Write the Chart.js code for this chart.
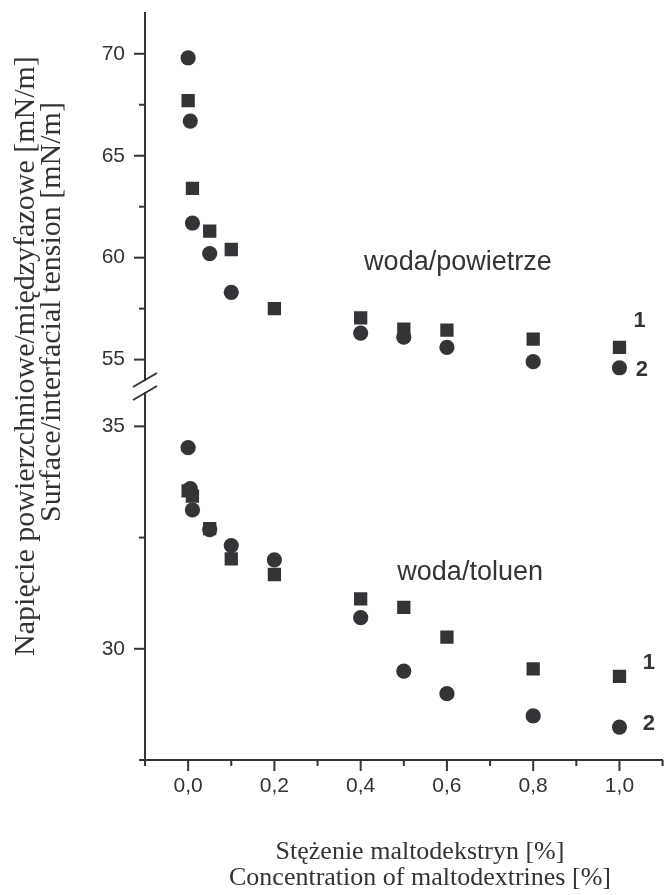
<!DOCTYPE html>
<html>
<head>
<meta charset="utf-8">
<script src="https://cdn.jsdelivr.net/npm/chart.js@4.4.0/dist/chart.umd.min.js"></script>
<style>
  html, body { margin: 0; padding: 0; background: #fff; overflow: hidden; }
  #wrap { position: relative; width: 669px; height: 895px; overflow: hidden; }
  #upper { position: absolute; left: 0; top: 0; }
  #lower { position: absolute; left: 0; top: 380px; }
  .title { position: absolute; font-family: "Liberation Serif", serif; color: #333; text-align: center; white-space: nowrap; }
  .yt { width: 700px; height: 30px; font-size: 30px; line-height: 30px; transform: rotate(-90deg); }
  #yt1 { left: -326px; top: 341px; }
  #yt2 { left: -300px; top: 297px; }
  #xtitle { width: 800px; left: 20px; top: 838px; font-size: 26px; line-height: 26px; }
</style>
</head>
<body>
<div id="wrap">
  <canvas id="upper" width="672" height="392"></canvas>
  <canvas id="lower" width="672" height="515"></canvas>
  <div class="title yt" id="yt1">Napięcie powierzchniowe/międzyfazowe [mN/m]</div>
  <div class="title yt" id="yt2">Surface/interfacial tension [mN/m]</div>
  <div class="title" id="xtitle">Stężenie maltodekstryn [%]<br>Concentration of maltodextrines [%]</div>
</div>
<script>
// stężenie maltodekstryn [%]
const xTicks = [-0.1, 0, 0.1, 0.2, 0.3, 0.4, 0.5, 0.6, 0.7, 0.8, 0.9, 1.0, 1.1];

// woda/powietrze (górny panel)
const airX1 = [0, 0.01, 0.05, 0.1, 0.2, 0.4, 0.5, 0.6, 0.8, 1.0];
const airY1 = [67.7, 63.4, 61.3, 60.4, 57.5, 57.05, 56.5, 56.45, 56.0, 55.6];
const airX2 = [0, 0.005, 0.01, 0.05, 0.1, 0.4, 0.5, 0.6, 0.8, 1.0];
const airY2 = [69.8, 66.7, 61.7, 60.2, 58.3, 56.3, 56.1, 55.6, 54.9, 54.6];
const upperTicks = [55, 57.5, 60, 62.5, 65, 67.5, 70];

// woda/toluen (dolny panel)
const tolX1 = [0, 0.01, 0.05, 0.1, 0.2, 0.4, 0.5, 0.6, 0.8, 1.0];
const tolY1 = [33.55, 33.43, 32.7, 32.02, 31.67, 31.12, 30.93, 30.26, 29.55, 29.38];
const tolX2 = [0, 0.005, 0.01, 0.05, 0.1, 0.2, 0.4, 0.5, 0.6, 0.8, 1.0];
const tolY2 = [34.52, 33.6, 33.12, 32.68, 32.32, 32.0, 30.7, 29.5, 28.99, 28.49, 28.24];
const lowerTicks = [27.5, 30, 32.5, 35];

const ink = '#333338';
const sans = 'Liberation Sans';

function pts(xs, ys) {
    return xs.map((x, i) => ({ x: x, y: ys[i] }));
}

// kreski podziałki: długie przy opisanych, krótkie przy pozostałych
const tickMarks = {
    id: 'tickMarks',
    afterDraw(chart) {
        const ctx = chart.ctx;
        ctx.save();
        ctx.strokeStyle = ink;
        ctx.lineWidth = 2;
        Object.values(chart.scales).forEach(scale => {
            if (!scale.options.display) return;
            scale.ticks.forEach(t => {
                const len = t.label !== '' ? 11 : 6;
                const p = scale.getPixelForValue(t.value);
                ctx.beginPath();
                if (scale.isHorizontal()) {
                    ctx.moveTo(p, scale.top);
                    ctx.lineTo(p, scale.top + len);
                } else {
                    ctx.moveTo(scale.right, p);
                    ctx.lineTo(scale.right - len, p);
                }
                ctx.stroke();
            });
        });
        ctx.restore();
    }
};

// przerwa osi Y (//)
const axisBreak = {
    id: 'axisBreak',
    afterDraw(chart, args, opts) {
        const ctx = chart.ctx;
        const a = chart.chartArea;
        const y = opts.edge === 'bottom' ? a.bottom : a.top;
        ctx.save();
        ctx.strokeStyle = ink;
        ctx.lineWidth = 2;
        ctx.beginPath();
        ctx.moveTo(a.left - 12, y + 7);
        ctx.lineTo(a.left + 12, y - 7);
        ctx.stroke();
        ctx.restore();
    }
};

// opisy w polu wykresu
const notes = {
    id: 'notes',
    afterDatasetsDraw(chart, args, opts) {
        const ctx = chart.ctx;
        const xs = chart.scales.x, ys = chart.scales.y;
        ctx.save();
        ctx.fillStyle = ink;
        ctx.textBaseline = 'middle';
        opts.items.forEach(n => {
            ctx.font = (n.bold ? 'bold ' : '') + n.size + 'px "' + sans + '"';
            ctx.textAlign = n.align;
            ctx.fillText(n.text, xs.getPixelForValue(n.x), ys.getPixelForValue(n.y));
        });
        ctx.restore();
    }
};

function makeChart(id, ds1, ds2, yMin, yMax, yTicks, showX, pad, edge, items) {
    return new Chart(document.getElementById(id), {
        type: 'scatter',
        data: {
            datasets: [
                { label: '2', data: ds2, pointStyle: 'circle', pointRadius: 7.6, pointHoverRadius: 7.6,
                  backgroundColor: ink, borderWidth: 0 },
                { label: '1', data: ds1, pointStyle: 'rect', pointRadius: 9.4, pointHoverRadius: 9.4,
                  backgroundColor: ink, borderWidth: 0 }
            ]
        },
        options: {
            responsive: false,
            animation: false,
            events: [],
            layout: { padding: pad },
            plugins: {
                legend: { display: false },
                tooltip: { enabled: false },
                axisBreak: { edge: edge },
                notes: { items: items }
            },
            scales: {
                x: {
                    type: 'linear',
                    display: showX,
                    min: -0.1,
                    max: 1.1,
                    afterBuildTicks: s => { s.ticks = xTicks.map(v => ({ value: v })); },
                    afterFit: s => {
                        s.height = showX ? 135 : 0;
                        s.paddingLeft = 0;
                        s.paddingRight = 0;
                    },
                    grid: { drawOnChartArea: false, drawTicks: true, tickLength: 11, tickColor: 'transparent' },
                    border: { display: true, color: ink, width: 2 },
                    ticks: {
                        autoSkip: false,
                        maxRotation: 0,
                        padding: 3,
                        color: '#333',
                        font: { family: sans, size: 21 },
                        callback: v => {
                            const k = Math.round(v * 10);
                            return (k >= 0 && k % 2 === 0) ? v.toFixed(1).replace('.', ',') : '';
                        }
                    }
                },
                y: {
                    type: 'linear',
                    min: yMin,
                    max: yMax,
                    afterBuildTicks: s => { s.ticks = yTicks.map(v => ({ value: v })); },
                    afterFit: s => {
                        s.width = 145;
                        s.paddingTop = 0;
                        s.paddingBottom = 0;
                    },
                    grid: { drawOnChartArea: false, drawTicks: true, tickLength: 12, tickColor: 'transparent' },
                    border: { display: true, color: ink, width: 2 },
                    ticks: {
                        autoSkip: false,
                        padding: 8,
                        color: '#333',
                        font: { family: sans, size: 21 },
                        callback: v => (v % 5 === 0 ? String(v) : '')
                    }
                }
            }
        },
        plugins: [tickMarks, axisBreak, notes]
    });
}

makeChart('upper', pts(airX1, airY1), pts(airX2, airY2), 54, 72, upperTicks, false,
    { top: 13, bottom: 12, left: 0, right: 0 }, 'bottom', [
        { text: 'woda/powietrze', x: 0.408, y: 59.76, size: 27, bold: false, align: 'left' },
        { text: '1', x: 1.047, y: 56.92, size: 22, bold: true, align: 'center' },
        { text: '2', x: 1.052, y: 54.48, size: 22, bold: true, align: 'center' }
    ]);

makeChart('lower', pts(tolX1, tolY1), pts(tolX2, tolY2), 27.5, 35.75, lowerTicks, true,
    { top: 13, bottom: 0, left: 0, right: 0 }, 'top', [
        { text: 'woda/toluen', x: 0.485, y: 31.71, size: 27, bold: false, align: 'left' },
        { text: '1', x: 1.068, y: 29.69, size: 22, bold: true, align: 'center' },
        { text: '2', x: 1.068, y: 28.32, size: 22, bold: true, align: 'center' }
    ]);
</script>
</body>
</html>
